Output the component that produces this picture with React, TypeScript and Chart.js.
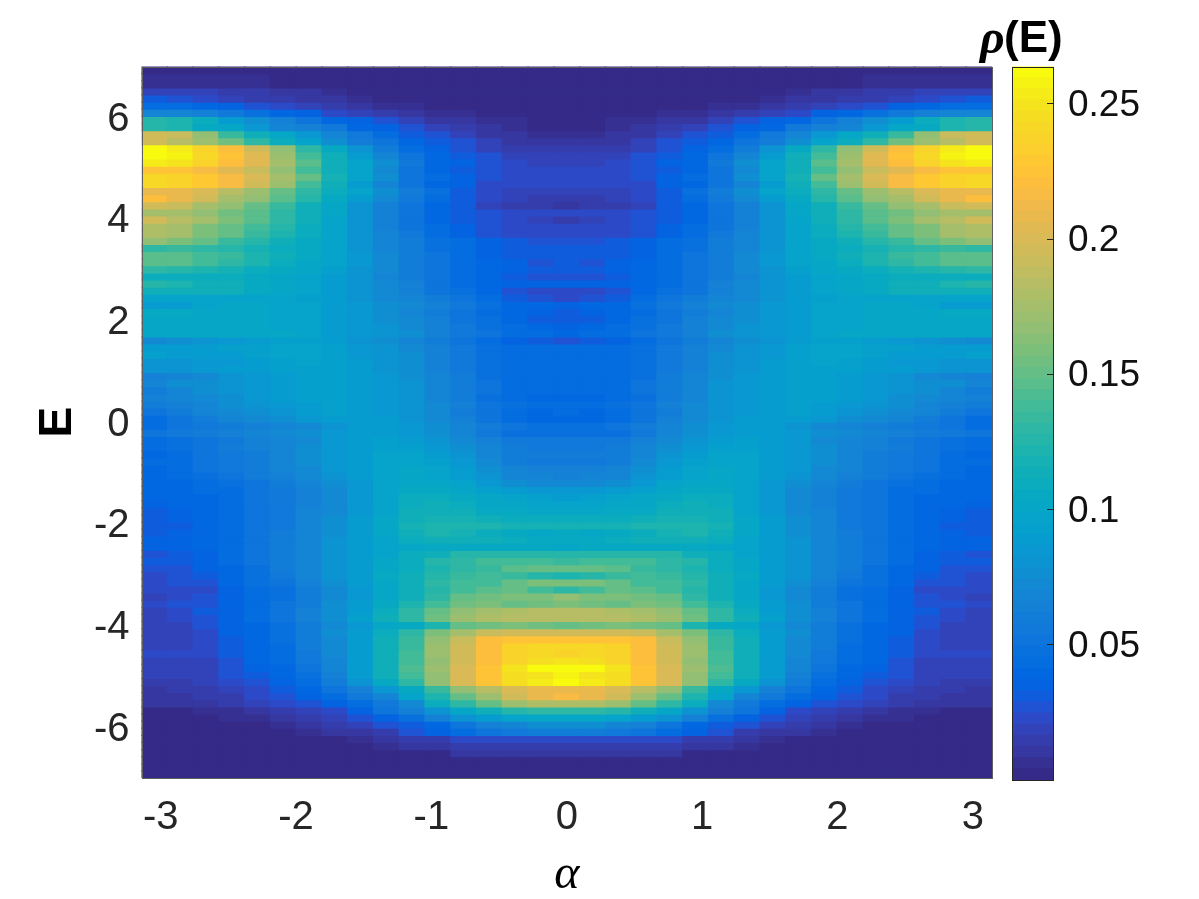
import React, { useEffect, useRef } from "react";
import { Chart, registerables } from "chart.js";

Chart.register(...registerables);

// Axis ticks
const alphaTicks = [-3, -2, -1, 0, 1, 2, 3];
const energyTicks = [-6, -4, -2, 0, 2, 4, 6];
const colorTicks = [0.05, 0.1, 0.15, 0.2, 0.25];
const colorTickLabels = ["0.05", "0.1", "0.15", "0.2", "0.25"];

const alphaMax = 3.14159;
const energyMax = 7;
const energyRows = 100;
const colorMax = 0.2638;

// MATLAB parula, 64 steps
const parula = [
  [0.2081,0.1663,0.5292],[0.2116,0.1898,0.5777],[0.2123,0.2138,0.627],[0.2081,0.2386,0.6771],
  [0.1959,0.2645,0.7279],[0.1707,0.2919,0.7792],[0.1253,0.3242,0.8303],[0.0591,0.3598,0.8683],
  [0.0117,0.3875,0.882],[0.006,0.4086,0.8828],[0.0165,0.4266,0.8786],[0.0329,0.443,0.872],
  [0.0498,0.4586,0.8641],[0.0629,0.4737,0.8554],[0.0723,0.4887,0.8467],[0.0779,0.504,0.8384],
  [0.0793,0.52,0.8312],[0.0749,0.5375,0.8263],[0.0641,0.557,0.824],[0.0488,0.5772,0.8228],
  [0.0343,0.5966,0.8199],[0.0265,0.6137,0.8135],[0.0239,0.6287,0.8038],[0.0231,0.6418,0.7913],
  [0.0228,0.6535,0.7768],[0.0267,0.6642,0.7607],[0.0384,0.6743,0.7436],[0.059,0.6838,0.7254],
  [0.0843,0.6928,0.7062],[0.1133,0.7015,0.6859],[0.1453,0.7098,0.6646],[0.1801,0.7177,0.6424],
  [0.2178,0.725,0.6193],[0.2586,0.7317,0.5954],[0.3022,0.7376,0.5712],[0.3482,0.7424,0.5473],
  [0.3953,0.7459,0.5244],[0.442,0.7481,0.5033],[0.4871,0.7491,0.484],[0.53,0.7491,0.4661],
  [0.5709,0.7485,0.4494],[0.6099,0.7473,0.4337],[0.6473,0.7456,0.4188],[0.6834,0.7435,0.4044],
  [0.7184,0.7411,0.3905],[0.7525,0.7384,0.3768],[0.7858,0.7356,0.3633],[0.8185,0.7327,0.3498],
  [0.8507,0.7299,0.336],[0.8824,0.7274,0.3217],[0.9139,0.7258,0.3063],[0.945,0.7261,0.2886],
  [0.9739,0.7314,0.2666],[0.9938,0.7455,0.2403],[0.999,0.7653,0.2164],[0.9955,0.7861,0.1967],
  [0.988,0.8066,0.1794],[0.9789,0.8271,0.1633],[0.9697,0.8481,0.1475],[0.9626,0.8705,0.1309],
  [0.9589,0.8949,0.1132],[0.9598,0.9218,0.0948],[0.9661,0.9514,0.0755],[0.9763,0.9831,0.0538],
];

// rho(E) x 1000. Rows run from E = 7 down to E = -7;
// columns run from alpha = -pi to alpha = 0 (the picture is mirror-symmetric about alpha = 0).
const rhoTable = [
  [3,3,3,3,3,3,3,3,3,3,3,3,3,3,3,3,3],
  [5,5,5,5,5,3,3,3,3,3,3,3,3,3,3,3,3],
  [7,7,7,7,6,3,3,3,3,3,3,3,3,3,3,3,3],
  [20,20,18,15,13,11,10,8,3,3,3,3,3,3,3,3,3],
  [30,28,24,20,16,14,12,11,7,3,3,3,3,3,3,3,3],
  [42,42,40,36,28,22,18,16,12,8,6,4,3,3,3,3,3],
  [68,66,62,56,48,40,35,24,20,16,10,8,6,4,3,3,3],
  [125,120,110,90,75,65,50,40,35,28,20,12,10,8,5,4,3],
  [125,120,105,100,85,70,65,55,40,35,26,20,15,12,8,4,3],
  [195,190,165,135,115,100,85,70,55,42,32,28,20,12,12,6,6],
  [195,185,170,155,130,110,95,75,60,50,38,30,25,18,12,12,12],
  [262,255,235,222,195,165,130,105,80,60,45,34,28,20,16,14,14],
  [262,258,240,225,205,170,140,112,90,70,52,40,30,25,20,20,20],
  [255,250,235,222,205,175,145,115,95,75,55,40,34,25,22,20,20],
  [225,225,218,205,190,165,140,112,95,72,52,40,32,26,22,21,21],
  [240,238,228,215,200,175,150,118,95,75,52,42,36,25,23,22,22],
  [240,238,228,215,195,170,140,112,90,70,52,40,35,24,22,21,21],
  [210,210,200,185,170,150,130,110,95,78,60,48,32,24,20,20,20],
  [222,210,195,175,165,145,125,105,90,72,55,42,30,23,18,16,13],
  [195,190,175,165,150,135,115,100,82,65,50,38,30,20,16,14,12],
  [175,175,165,155,145,130,115,100,80,65,50,40,30,25,24,22,22],
  [195,185,175,160,145,130,112,98,80,65,52,40,30,25,22,18,15],
  [180,175,160,150,140,125,110,98,80,65,52,42,35,26,24,22,22],
  [180,175,160,150,135,122,110,98,82,68,55,42,34,28,24,24,24],
  [165,160,150,135,125,115,105,95,82,70,60,48,42,36,30,28,28],
  [130,135,130,125,118,110,105,95,82,70,60,48,42,36,30,30,30],
  [148,145,140,132,122,112,105,95,85,72,60,50,44,36,32,30,30],
  [148,145,140,130,120,110,102,95,85,72,60,50,44,38,34,26,30],
  [130,125,120,118,110,105,100,92,82,72,60,50,44,38,33,32,32],
  [110,110,110,108,105,100,98,90,80,70,60,50,44,38,32,28,28],
  [125,120,115,112,105,100,98,90,80,72,62,50,44,38,34,34,34],
  [115,115,115,112,105,100,96,90,80,72,62,52,46,38,26,24,24],
  [95,95,95,95,95,95,92,88,82,74,68,58,50,42,32,26,24],
  [90,90,95,100,100,98,95,90,85,78,72,62,54,46,40,38,36],
  [105,105,100,100,100,98,95,90,85,78,70,60,52,44,38,34,32],
  [100,100,100,100,100,98,95,90,85,78,72,62,52,46,38,32,30],
  [100,100,100,100,100,98,95,90,85,80,74,64,56,48,42,38,36],
  [100,100,100,100,100,100,96,90,85,80,75,65,56,50,44,42,40],
  [72,75,80,84,88,92,92,88,82,75,68,58,52,44,36,30,28],
  [90,90,90,92,94,95,95,92,85,80,74,64,56,48,44,42,42],
  [92,90,90,90,92,95,95,92,85,80,75,65,56,48,44,42,42],
  [80,80,84,86,90,94,95,92,88,82,75,65,55,46,43,42,42],
  [82,82,85,88,90,92,94,92,88,82,75,64,55,47,42,42,42],
  [65,70,74,80,86,90,92,92,90,84,78,68,58,48,44,42,42],
  [68,75,78,82,85,90,92,92,90,85,80,70,60,50,45,44,44],
  [60,68,75,80,85,90,92,92,90,85,80,70,60,50,45,42,42],
  [62,66,72,78,84,88,92,92,90,86,80,70,58,48,42,40,40],
  [58,62,70,75,80,86,90,92,90,86,80,72,62,50,46,44,44],
  [50,60,66,72,76,82,88,92,90,86,82,72,60,50,44,40,42],
  [45,52,60,66,72,78,84,90,90,88,82,74,62,52,44,38,40],
  [45,50,54,58,62,68,74,82,88,90,85,76,68,58,50,48,48],
  [52,55,58,62,66,72,78,85,90,90,86,78,68,56,48,46,46],
  [42,46,50,56,62,68,74,84,90,92,90,82,74,62,56,54,54],
  [44,48,52,58,62,68,75,85,90,92,92,85,78,66,58,56,56],
  [40,44,50,55,60,68,75,85,90,95,96,90,82,70,60,58,58],
  [42,45,50,55,60,68,75,85,90,95,98,92,84,72,60,56,54],
  [40,44,50,54,60,66,74,85,90,95,100,96,88,76,66,62,62],
  [40,42,48,52,58,64,72,82,90,96,100,98,90,80,70,66,64],
  [38,40,44,46,52,58,66,75,86,95,100,100,95,85,78,74,72],
  [38,40,42,44,50,56,65,72,85,95,105,105,100,92,88,85,85],
  [38,40,40,44,50,55,65,72,85,95,108,108,105,100,95,92,90],
  [36,38,40,42,50,55,65,72,85,96,110,112,108,102,100,96,95],
  [32,36,40,42,50,56,66,74,86,98,112,115,112,106,104,100,100],
  [32,34,38,42,50,56,66,75,88,100,115,118,116,112,110,108,108],
  [30,32,38,42,50,56,68,76,90,102,118,122,122,120,118,118,118],
  [32,34,38,42,50,58,68,78,88,100,115,120,118,110,106,103,105],
  [33,35,40,42,50,60,70,80,90,98,110,115,115,112,108,105,105],
  [33,35,40,42,50,60,70,80,88,95,100,105,105,105,105,105,100],
  [28,30,36,42,50,60,70,80,90,98,108,115,125,125,125,125,125],
  [30,30,36,42,50,60,70,80,90,100,110,125,130,140,140,140,135],
  [26,28,33,41,48,58,68,80,90,102,110,122,130,135,145,150,150],
  [24,26,30,40,46,55,66,80,90,105,112,125,135,140,135,125,120],
  [24,26,28,38,46,52,64,76,88,102,112,130,140,140,150,160,160],
  [22,24,24,34,42,47,58,72,86,100,112,125,140,145,150,140,130],
  [20,24,26,36,42,48,58,74,86,102,115,130,150,155,160,160,165],
  [24,26,28,36,44,50,60,76,88,105,122,140,155,160,150,155,160],
  [20,24,30,36,44,50,62,78,90,110,130,150,165,175,180,185,185],
  [20,22,28,36,42,50,62,78,92,112,130,155,170,180,185,185,185],
  [18,20,26,34,40,46,58,72,86,100,105,120,150,155,160,155,150],
  [18,20,24,34,40,46,60,75,90,110,128,160,175,190,195,195,195],
  [18,20,22,32,40,46,58,74,90,112,132,165,190,220,225,225,225],
  [18,20,22,30,40,45,58,72,90,112,136,170,195,220,235,240,240],
  [24,24,22,30,38,44,56,72,90,115,140,170,195,222,235,242,238],
  [18,20,20,28,38,42,54,70,88,115,140,165,195,220,235,245,250],
  [17,18,20,26,34,40,50,68,90,115,142,170,200,225,250,260,262],
  [17,18,20,25,30,38,48,65,90,115,140,165,200,225,245,250,258],
  [14,16,18,22,26,34,44,58,80,105,130,165,200,225,245,255,260],
  [12,14,16,18,24,30,40,50,65,85,105,135,165,185,200,210,210],
  [12,12,13,16,22,26,36,45,55,70,95,120,150,170,195,210,215],
  [9,10,12,13,18,22,28,36,45,55,72,110,130,150,170,180,180],
  [3,4,6,8,12,14,18,24,35,50,62,80,100,115,125,130,130],
  [3,3,4,5,7,10,14,18,26,34,46,65,80,90,95,100,100],
  [3,3,3,3,4,7,9,14,20,26,32,40,50,65,70,75,75],
  [3,3,3,3,3,3,7,10,12,16,26,34,45,50,55,60,60],
  [3,3,3,3,3,3,3,3,6,10,15,16,22,24,24,24,24],
  [3,3,3,3,3,3,3,3,3,5,9,12,14,16,16,16,16],
  [3,3,3,3,3,3,3,3,3,3,3,3,10,12,12,12,12],
  [3,3,3,3,3,3,3,3,3,3,3,3,3,3,3,3,3],
  [3,3,3,3,3,3,3,3,3,3,3,3,3,3,3,3,3],
  [3,3,3,3,3,3,3,3,3,3,3,3,3,3,3,3,3],
];

const paletteColor = (i: number) => {
  const c = parula[i];
  return `rgb(${Math.round(c[0] * 255)},${Math.round(c[1] * 255)},${Math.round(c[2] * 255)})`;
};

const rhoColor = (rho: number) =>
  paletteColor(Math.max(0, Math.min(63, Math.floor((rho / colorMax) * 64))));

const SANS = '"Liberation Sans", Arial, sans-serif';
const SERIF = '"Liberation Serif", "Times New Roman", serif';
const INK = "#262626";

const frame = (color: string) => ({
  id: "frame",
  afterDraw(chart: any) {
    const { ctx, chartArea: a } = chart;
    ctx.save();
    ctx.strokeStyle = color;
    ctx.lineWidth = 1;
    ctx.strokeRect(Math.round(a.left) + 0.5, Math.round(a.top) + 0.5, Math.round(a.right - a.left) - 1, Math.round(a.bottom - a.top) - 1);
    ctx.restore();
  },
});

// The y tick labels sit a little lower than canvas "middle" text does.
const nudgeLabels = (dy: number) => ({
  id: "nudgeLabels",
  beforeDraw(chart: any) {
    for (const item of chart.scales.y.getLabelItems()) item.options.translation[1] += dy;
  },
});

const colorTitle = {
  id: "colorTitle",
  afterDraw(chart: any) {
    const { ctx } = chart;
    ctx.save();
    ctx.fillStyle = "#000";
    ctx.textBaseline = "alphabetic";
    ctx.textAlign = "left";
    ctx.font = `bold italic 48px ${SERIF}`;
    ctx.fillText("\u03c1", 10, 53);
    ctx.font = `bold 44px ${SANS}`;
    ctx.fillText("(E)", 34, 52);
    ctx.restore();
  },
};

export default function App() {
  const mainRef = useRef<HTMLCanvasElement>(null);
  const barRef = useRef<HTMLCanvasElement>(null);

  useEffect(() => {
    document.body.style.margin = "0";
    const halfCols = rhoTable[0].length;
    const cols = halfCols * 2 - 1;
    const colWidth = (2 * alphaMax) / cols;
    const rowHeight = (2 * energyMax) / energyRows;
    const colValue = (row: number[], c: number) => row[c < halfCols ? c : cols - 1 - c];

    const datasets = rhoTable.map((row, r) => {
      const top = energyMax - r * rowHeight;
      const data: any[] = [];
      const colors: string[] = [];
      for (let c = 0; c < cols; c++) {
        data.push({ x: -alphaMax + (c + 0.5) * colWidth, y: [top - rowHeight, top] });
        colors.push(rhoColor(colValue(row, c) / 1000));
      }
      return {
        data,
        backgroundColor: colors,
        borderWidth: 0,
        inflateAmount: 0.6,
        barPercentage: 1,
        categoryPercentage: 1,
        grouped: false,
      };
    });

    const main = new Chart(mainRef.current as HTMLCanvasElement, {
      type: "bar",
      data: { datasets } as any,
      options: {
        animation: false,
        responsive: false,
        devicePixelRatio: 1,
        events: [],
        layout: { padding: { left: 0, top: 66.5, right: 207, bottom: 0 } },
        plugins: { legend: { display: false }, tooltip: { enabled: false } },
        scales: {
          x: {
            type: "linear",
            offset: false,
            min: -alphaMax,
            max: alphaMax,
            afterFit: (s: any) => { s.height = 121; },
            afterBuildTicks: (s: any) => { s.ticks = alphaTicks.map((value) => ({ value })); },
            grid: { display: false, drawTicks: false },
            border: { display: false },
            ticks: { color: INK, padding: 16, maxRotation: 0, autoSkip: false, font: { family: SANS, size: 40 }, callback: (v: any) => String(v) },
            title: { display: true, text: "\u03b1", color: "#000", padding: { top: 0, bottom: 0 }, font: { family: SERIF, style: "italic", size: 48, lineHeight: 1 } },
          },
          y: {
            type: "linear",
            min: -energyMax,
            max: energyMax,
            afterFit: (s: any) => { s.width = 141.5; },
            afterBuildTicks: (s: any) => { s.ticks = energyTicks.map((value) => ({ value })); },
            grid: { display: false, drawTicks: false },
            border: { display: false },
            ticks: { color: INK, padding: 12, autoSkip: false, font: { family: SANS, size: 40 }, callback: (v: any) => String(v) },
            title: { display: true, text: "E", color: "#000", padding: { top: 35, bottom: 0 }, font: { family: SANS, weight: "bold", size: 46, lineHeight: 1 } },
          },
        },
      },
      plugins: [frame("#5f5f5f"), nudgeLabels(2.5)],
    } as any);

    const step = colorMax / parula.length;
    const barSets = parula.map((_, i) => ({
      data: [[i * step, (i + 1) * step]],
      backgroundColor: paletteColor(i),
      borderWidth: 0,
      inflateAmount: 0.6,
      barPercentage: 1,
      categoryPercentage: 1,
      grouped: false,
    }));

    const bar = new Chart(barRef.current as HTMLCanvasElement, {
      type: "bar",
      data: { labels: ["rho"], datasets: barSets } as any,
      options: {
        animation: false,
        responsive: false,
        devicePixelRatio: 1,
        events: [],
        layout: { padding: { left: 42, top: 66.5, right: 0, bottom: 119 } },
        plugins: { legend: { display: false }, tooltip: { enabled: false } },
        scales: {
          x: { display: false },
          y: {
            type: "linear",
            position: "right",
            min: 0,
            max: colorMax,
            afterFit: (s: any) => { s.width = 115; },
            afterBuildTicks: (s: any) => { s.ticks = colorTicks.map((value) => ({ value })); },
            grid: { z: 1, drawOnChartArea: false, drawTicks: true, tickLength: -7, color: "#262626" },
            border: { display: false },
            ticks: {
              color: "#111",
              padding: 21,
              autoSkip: false,
              font: { family: SANS, size: 37 },
              callback: (v: any) => colorTickLabels[colorTicks.indexOf(v)] ?? String(v),
            },
          },
        },
      },
      plugins: [frame("#262626"), colorTitle, nudgeLabels(2)],
    } as any);

    return () => {
      main.destroy();
      bar.destroy();
    };
  }, []);

  return (
    <div style={{ position: "absolute", left: 0, top: 0, width: 1199, height: 899, overflow: "hidden", background: "#fff" }}>
      <canvas ref={mainRef} width={1199} height={899} style={{ position: "absolute", left: 0, top: 0 }} />
      <canvas ref={barRef} width={199} height={899} style={{ position: "absolute", left: 970, top: 0 }} />
    </div>
  );
}
